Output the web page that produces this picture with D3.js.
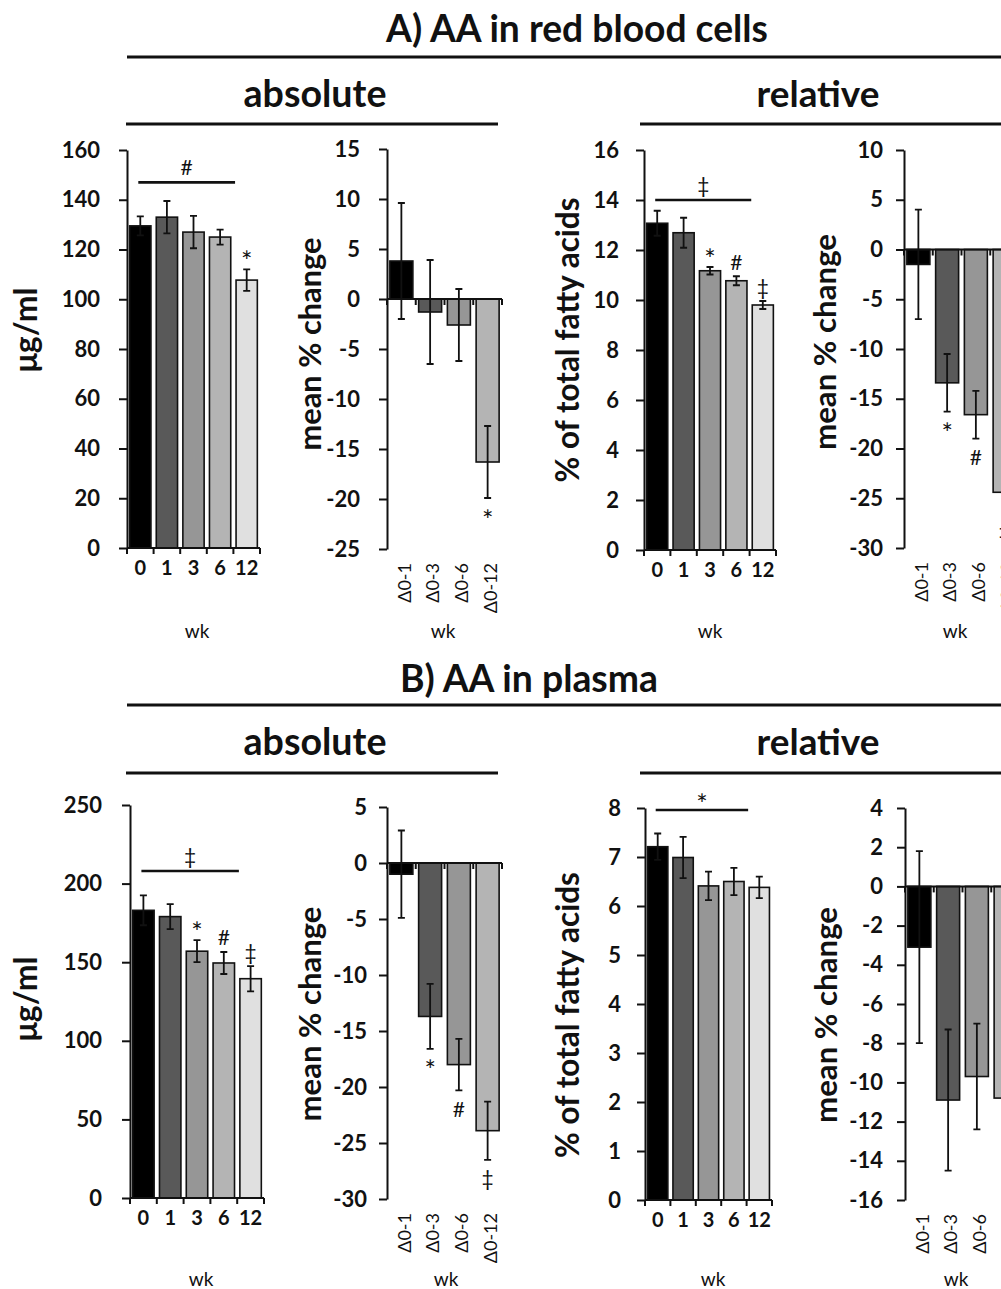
<!DOCTYPE html>
<html><head><meta charset="utf-8">
<script src="https://cdn.jsdelivr.net/npm/d3@7"></script>
<style>
body{margin:0;background:#fff;overflow:hidden}
svg{display:block}
text{font-family:Lato,"Open Sans",sans-serif;fill:#111}
</style>
</head><body>
<svg id="c" width="1001" height="1289"></svg>
<script>
// ---------------- DATA ----------------
const weeks = ["0","1","3","6","12"];
const deltas = ["Δ0-1","Δ0-3","Δ0-6","Δ0-12"];
const barColors = ["#000000","#595959","#969696","#b4b4b4","#e0e0e0"];

// A) AA in red blood cells
const rbcAbsMean = [129.5, 133, 127, 125, 107.7];
const rbcAbsErr  = [3.8, 6.5, 6.5, 3, 4.3];
const rbcAbsMarks = ["", "", "", "", "*"];
const rbcAbsTicks = [0,20,40,60,80,100,120,140,160];
const rbcAbsBracket = {sym:"#", level:147};

const rbcAbsChange = [3.8, -1.3, -2.6, -16.3];
const rbcAbsChangeErr = [5.8, 5.2, 3.6, 3.6];
const rbcAbsChangeMarks = ["", "", "", "*"];
const rbcAbsChangeTicks = [-25,-20,-15,-10,-5,0,5,10,15];

const rbcRelMean = [13.07, 12.69, 11.17, 10.77, 9.8];
const rbcRelErr  = [0.5, 0.6, 0.15, 0.18, 0.16];
const rbcRelMarks = ["", "", "*", "#", "‡"];
const rbcRelTicks = [0,2,4,6,8,10,12,14,16];
const rbcRelBracket = {sym:"‡", level:14};

const rbcRelChange = [-1.5, -13.4, -16.6, -24.4];
const rbcRelChangeErr = [5.5, 2.9, 2.4, 2.0];
const rbcRelChangeMarks = ["", "*", "#", "‡"];
const rbcRelChangeTicks = [-30,-25,-20,-15,-10,-5,0,5,10];

// B) AA in plasma
const plAbsMean = [183, 179, 157, 149.5, 139.5];
const plAbsErr  = [9.5, 8, 7, 7, 8];
const plAbsMarks = ["", "", "*", "#", "‡"];
const plAbsTicks = [0,50,100,150,200,250];
const plAbsBracket = {sym:"‡", level:208};

const plAbsChange = [-1.0, -13.7, -18.0, -23.9];
const plAbsChangeErr = [3.9, 2.9, 2.3, 2.6];
const plAbsChangeMarks = ["", "*", "#", "‡"];
const plAbsChangeTicks = [-30,-25,-20,-15,-10,-5,0,5];

const plRelMean = [7.21, 6.99, 6.41, 6.50, 6.38];
const plRelErr  = [0.27, 0.42, 0.29, 0.28, 0.22];
const plRelMarks = ["", "", "", "", ""];
const plRelTicks = [0,1,2,3,4,5,6,7,8];
const plRelBracket = {sym:"*", level:7.96};

const plRelChange = [-3.1, -10.9, -9.7, -10.8];
const plRelChangeErr = [4.9, 3.6, 2.7, 4.0];
const plRelChangeMarks = ["", "", "", ""];
const plRelChangeTicks = [-16,-14,-12,-10,-8,-6,-4,-2,0,2,4];

const yLabAbs = "μg/ml", yLabRel = "% of total fatty acids", yLabChange = "mean % change";
const xLab = "wk";

// ---------------- DRAWING ----------------
const svg = d3.select("#c");

function fitText(sel, target){
  const n = sel.node();
  const fs = parseFloat(sel.attr("font-size"));
  const w = n.getComputedTextLength();
  if (w > 0) sel.attr("font-size", (fs*target/w).toFixed(2));
}

// symbol size / vertical offset helpers (asterisk sits high in the glyph box)
const markSize = s => s === "*" ? 27 : 21;
function markY(s, yRef, above){
  if (above) return s === "*" ? yRef - 9 : yRef - 15;
  return s === "*" ? yRef + 21 : yRef + 18;
}

function panel(c){
  const g = svg.append("g");
  const n = c.cats.length;
  const x = d3.scaleBand().domain(c.cats).range([c.x0, c.x0 + c.w]).paddingInner(0.2).paddingOuter(0.1);
  const y = d3.scaleLinear().domain(c.domain).range([c.yBot, c.yTop]);
  const step = x.step();
  const data = c.cats.map((k,i)=>({k, i, v:c.vals[i], e:c.errs[i], m:c.marks[i]}));

  // bars
  g.selectAll("rect.bar").data(data).join("rect")
    .attr("x", d=>x(d.k)).attr("width", x.bandwidth())
    .attr("y", d=>y(Math.max(0,d.v))).attr("height", d=>Math.abs(y(d.v)-y(0)))
    .attr("fill", d=>barColors[d.i]).attr("stroke","#111").attr("stroke-width",1.6);

  // error bars
  const cap = 3.5;
  g.selectAll("path.err").data(data).join("path")
    .attr("d", d=>{
      const cx = x(d.k)+x.bandwidth()/2, y1 = y(d.v+d.e), y2 = y(d.v-d.e);
      return `M${cx},${y1}V${y2}M${cx-cap},${y1}H${cx+cap}M${cx-cap},${y2}H${cx+cap}`;
    })
    .attr("fill","none").attr("stroke","#111").attr("stroke-width",1.8);

  // significance marks
  g.selectAll("text.mark").data(data.filter(d=>d.m)).join("text")
    .attr("x", d=>x(d.k)+x.bandwidth()/2)
    .attr("y", d=> d.v>=0 ? markY(d.m, y(d.v+d.e), true) : markY(d.m, y(d.v-d.e), false))
    .attr("text-anchor","middle").attr("dominant-baseline","central")
    .attr("font-size", d=>markSize(d.m)).text(d=>d.m);

  // bracket
  if (c.bracket){
    const yb = y(c.bracket.level);
    const xa = x(c.cats[0]) + x.bandwidth()/2 - 2;
    const xb = x(c.cats[n-1]) - 1;
    g.append("line").attr("x1",xa).attr("x2",xb).attr("y1",yb).attr("y2",yb)
      .attr("stroke","#111").attr("stroke-width",2.6);
    const s = c.bracket.sym;
    g.append("text").attr("x",(xa+xb)/2).attr("y", s === "*" ? yb-6 : yb-16)
      .attr("text-anchor","middle").attr("dominant-baseline","central")
      .attr("font-size",markSize(s)).text(s);
  }

  // y axis
  const ya = g.append("g").attr("transform",`translate(${c.x0},0)`)
    .call(d3.axisLeft(y).tickValues(c.ticks).tickSize(8).tickSizeOuter(0).tickPadding(c.tp).tickFormat(d=>String(d)));
  ya.select(".domain").attr("stroke","#111").attr("stroke-width",2);
  ya.selectAll(".tick line").attr("stroke","#111").attr("stroke-width",2);
  ya.selectAll(".tick text").attr("font-size",22).attr("font-weight",700)
    .attr("font-family",'Lato,"Open Sans",sans-serif').attr("fill","#111");

  // x axis line at zero with boundary ticks
  const y0 = y(0);
  g.append("line").attr("x1",c.x0).attr("x2",c.x0+c.w).attr("y1",y0).attr("y2",y0)
    .attr("stroke","#111").attr("stroke-width",2);
  g.selectAll("line.bt").data(d3.range(n+1)).join("line")
    .attr("x1",i=>c.x0+i*step).attr("x2",i=>c.x0+i*step)
    .attr("y1",y0).attr("y2",y0+6).attr("stroke","#111").attr("stroke-width",2);

  // category labels
  if (c.rot){
    g.selectAll("text.cat").data(data).join("text")
      .attr("transform",d=>`translate(${x(d.k)+x.bandwidth()/2+3},${c.yBot+14}) rotate(-90)`)
      .attr("text-anchor","end").attr("dy","0.35em")
      .attr("font-size",18).text(d=>d.k);
  } else {
    g.selectAll("text.cat").data(data).join("text")
      .attr("x",d=>x(d.k)+x.bandwidth()/2).attr("y",c.yBot+27)
      .attr("text-anchor","middle").attr("font-size",20).attr("font-weight",700).text(d=>d.k);
  }

  // x title
  g.append("text").attr("x",c.wkX).attr("y",c.wkY).attr("text-anchor","middle")
    .attr("font-size",19).text(xLab);

  // y title
  const yl = g.append("text").attr("transform",`translate(${c.lx},${c.ly}) rotate(-90)`)
    .attr("text-anchor","middle").attr("font-size",24).attr("font-weight",700).text(c.ylab);
  fitText(yl, c.lw);
}

function header(txt, cx, yBase, target, lineX1, lineX2, lineY){
  const t = svg.append("text").attr("x",cx).attr("y",yBase).attr("text-anchor","middle")
    .attr("font-size",30).attr("font-weight",700).text(txt);
  fitText(t, target);
  svg.append("line").attr("x1",lineX1).attr("x2",lineX2).attr("y1",lineY).attr("y2",lineY)
    .attr("stroke","#111").attr("stroke-width",3);
}

// Section headers
header("A) AA in red blood cells", 577, 42, 382, 127, 1010, 57);
header("absolute", 315, 107, 143, 126, 498, 124);
header("relative", 818, 107, 123, 640, 1010, 124);
header("B) AA in plasma", 529, 692, 258, 127, 1010, 705);
header("absolute", 315, 755, 143, 126, 498, 773);
header("relative", 818, 755, 123, 640, 1010, 773);

// Panels
panel({cats:weeks, vals:rbcAbsMean, errs:rbcAbsErr, marks:rbcAbsMarks, ticks:rbcAbsTicks, bracket:rbcAbsBracket,
  domain:[0,160], x0:127, w:133, yTop:150, yBot:548, tp:19, rot:false, wkX:197, wkY:638,
  ylab:yLabAbs, lx:37, ly:330, lw:85});
panel({cats:deltas, vals:rbcAbsChange, errs:rbcAbsChangeErr, marks:rbcAbsChangeMarks, ticks:rbcAbsChangeTicks,
  domain:[-25,15], x0:387, w:115, yTop:149, yBot:549, tp:19, rot:true, wkX:443, wkY:638,
  ylab:yLabChange, lx:321, ly:344, lw:213});
panel({cats:weeks, vals:rbcRelMean, errs:rbcRelErr, marks:rbcRelMarks, ticks:rbcRelTicks, bracket:rbcRelBracket,
  domain:[0,16], x0:644, w:132, yTop:150, yBot:550, tp:17, rot:false, wkX:710, wkY:638,
  ylab:yLabRel, lx:579, ly:340, lw:285});
panel({cats:deltas, vals:rbcRelChange, errs:rbcRelChangeErr, marks:rbcRelChangeMarks, ticks:rbcRelChangeTicks,
  domain:[-30,10], x0:904, w:115, yTop:150, yBot:548, tp:13, rot:true, wkX:955, wkY:638,
  ylab:yLabChange, lx:836, ly:342, lw:216});

panel({cats:weeks, vals:plAbsMean, errs:plAbsErr, marks:plAbsMarks, ticks:plAbsTicks, bracket:plAbsBracket,
  domain:[0,250], x0:130, w:134, yTop:805, yBot:1198, tp:20, rot:false, wkX:201, wkY:1286,
  ylab:yLabAbs, lx:37, ly:999, lw:85});
panel({cats:deltas, vals:plAbsChange, errs:plAbsChangeErr, marks:plAbsChangeMarks, ticks:plAbsChangeTicks,
  domain:[-30,5], x0:387, w:115, yTop:807, yBot:1199, tp:12, rot:true, wkX:446, wkY:1286,
  ylab:yLabChange, lx:321, ly:1014, lw:215});
panel({cats:weeks, vals:plRelMean, errs:plRelErr, marks:plRelMarks, ticks:plRelTicks, bracket:plRelBracket,
  domain:[0,8], x0:645, w:127, yTop:808, yBot:1200, tp:16, rot:false, wkX:713, wkY:1286,
  ylab:yLabRel, lx:579, ly:1015, lw:286});
panel({cats:deltas, vals:plRelChange, errs:plRelChangeErr, marks:plRelChangeMarks, ticks:plRelChangeTicks,
  domain:[-16,4], x0:905, w:115, yTop:808, yBot:1200, tp:14, rot:true, wkX:956, wkY:1286,
  ylab:yLabChange, lx:837, ly:1015, lw:216});
</script>
</body></html>
